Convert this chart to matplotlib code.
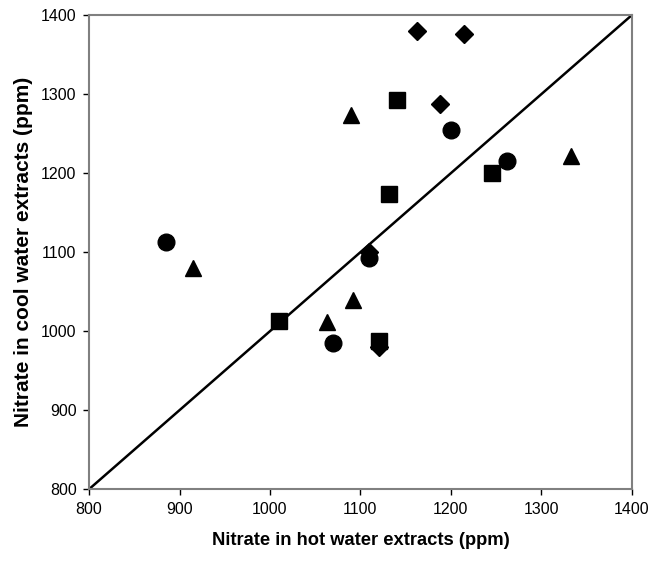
import numpy as np
import matplotlib.pyplot as plt

plt.rcParams['font.family'] = ['Liberation Sans', 'DejaVu Sans']

# four groups of samples, hot vs cool water extracts (ppm)
diamond_hot = [1162, 1214, 1188, 1110, 1120]
diamond_cool = [1380, 1376, 1288, 1100, 980]
square_hot = [1140, 1132, 1245, 1010, 1120]
square_cool = [1293, 1173, 1200, 1013, 987]
circle_hot = [885, 1200, 1262, 1110, 1070]
circle_cool = [1113, 1255, 1215, 1093, 985]
triangle_hot = [915, 1090, 1333, 1063, 1092]
triangle_cool = [1080, 1273, 1222, 1012, 1040]
one_to_one = [800, 1400]
ticks = [800, 900, 1000, 1100, 1200, 1300, 1400]

fig = plt.figure(figsize=(6.5, 5.61), dpi=100)
ax = fig.add_axes([0.137, 0.128, 0.835, 0.845])

ax.plot(one_to_one, one_to_one, color='black', linewidth=1.8, zorder=2)
ax.plot(diamond_hot, diamond_cool, 'D', color='black', markersize=9, linestyle='none', zorder=3)
ax.plot(square_hot, square_cool, 's', color='black', markersize=12, linestyle='none', zorder=3)
ax.plot(circle_hot, circle_cool, 'o', color='black', markersize=12, linestyle='none', zorder=3)
ax.plot(triangle_hot, triangle_cool, '^', color='black', markersize=12, linestyle='none', zorder=3)

ax.set_xlim(800, 1400)
ax.set_ylim(800, 1400)
ax.set_xticks(ticks)
ax.set_yticks(ticks)
ax.tick_params(direction='out', length=4, width=1, labelsize=11.5, pad=5)
for s in ax.spines.values():
    s.set_color('#808080')
    s.set_linewidth(1.5)

ax.set_xlabel('Nitrate in hot water extracts (ppm)', fontsize=13.2, fontweight='bold', labelpad=11)
ax.set_ylabel('Nitrate in cool water extracts (ppm)', fontsize=15, fontweight='bold', labelpad=6)

fig.savefig('out.png', dpi=100)
